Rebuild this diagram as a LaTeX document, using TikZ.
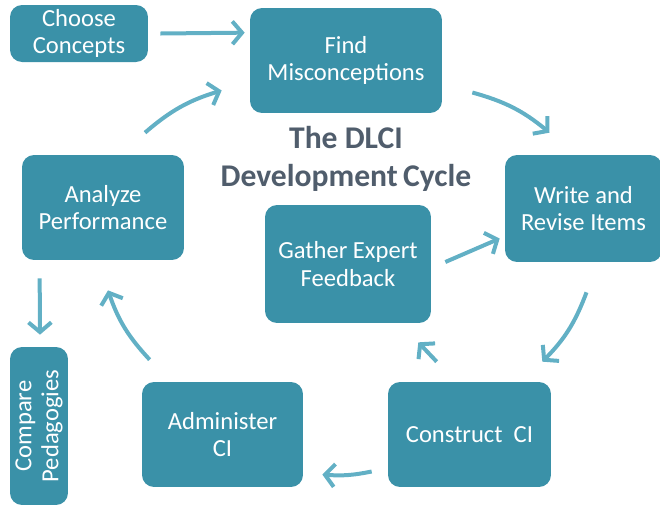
\documentclass[tikz,border=0pt]{standalone}
\usepackage{fontspec}
\setmainfont{Carlito}
\usetikzlibrary{arrows.meta}
\definecolor{boxteal}{HTML}{3A91A8}
\definecolor{arrteal}{HTML}{62B0C5}
\definecolor{titlegray}{HTML}{505D6C}
\begin{document}
\begin{tikzpicture}[x=0.02cm,y=-0.02cm,
  box/.style={draw=none,fill=boxteal,rounded corners=0.24cm,text=white,align=center,inner sep=2pt,font=\fontsize{14}{15.5}\selectfont},
  flow/.style={draw=arrteal,line width=0.08cm,-{Straight Barb[length=5.5pt,width=13pt]}}]
\useasboundingbox (0,0) rectangle (660,505);
\node[box,minimum width=2.76cm,minimum height=1.14cm](choose) at (79,33.5){Choose\\Concepts};
\node[box,minimum width=3.84cm,minimum height=2.1cm](find) at (346,60.5){Find\\Misconceptions};
\node[box,minimum width=3.14cm,minimum height=2.14cm](write) at (583.5,208.5){Write and\\Revise Items};
\node[box,minimum width=3.24cm,minimum height=2.1cm](analyze) at (103,207.5){Analyze\\Performance};
\node[box,minimum width=3.32cm,minimum height=2.36cm](gather) at (348,264){Gather Expert\\Feedback};
\node[box,minimum width=3.26cm,minimum height=2.1cm](construct) at (469.5,434.5){Construct\ \ CI};
\node[box,minimum width=3.22cm,minimum height=2.1cm](administer) at (222.5,434.5){Administer\\CI};
\node[box,rotate=90,minimum width=3.16cm,minimum height=1.16cm](compare) at (39,426){Compare\\Pedagogies};
\node[text=titlegray,align=center,font=\fontsize{18}{21.5}\selectfont\bfseries](title) at (346,159){The DLCI\\Development\,Cycle};
\draw[flow]([shift={(12,0)}]choose.east)--([shift={(-5,25)}]find.north west);
\draw[flow]([shift={(30,32)}]find.east) to[bend left=12] ([shift={(-34,-22)}]write.north);
\draw[flow]([shift={(3,30)}]write.south) to[bend left=12] ([shift={(-9,-20)}]construct.north east);
\draw[flow]([shift={(-16,37)}]construct.west) to[bend left=8] ([shift={(19,40)}]administer.east);
\draw[flow]([shift={(8,-22)}]administer.north west) to[bend left=12] ([shift={(5,30)}]analyze.south);
\draw[flow]([shift={(42,-22)}]analyze.north) to[bend left=12] ([shift={(-28,30)}]find.west);
\draw[flow]([shift={(14,-2)}]gather.east)--([shift={(-5,30)}]write.west);
\draw[flow]([shift={(49,-20)}]construct.north west)--([shift={(-13,19)}]gather.south east);
\draw[flow]([shift={(18,18)}]analyze.south west)--([shift={(1,-12)}]compare.east);
\end{tikzpicture}
\end{document}
